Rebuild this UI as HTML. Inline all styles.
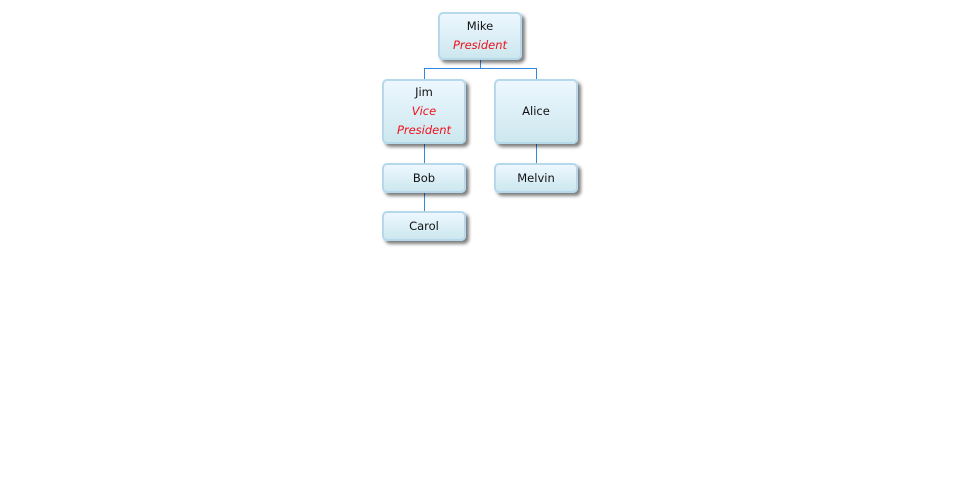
<!DOCTYPE html>
<html><head><style>
body{margin:0;width:960px;height:500px;background:#fff;position:relative;font-family:"DejaVu Sans","Liberation Sans",sans-serif;font-size:11.5px;color:#111;}
.n{position:absolute;box-sizing:border-box;border:2px solid #b5d9ea;border-radius:5px;background:linear-gradient(#edf7ff,#cde7ee);box-shadow:3px 3px 3px rgba(0,0,0,0.5);display:flex;flex-direction:column;justify-content:center;align-items:center;text-align:center;line-height:19px;}
.r{color:#f0101a;font-style:italic;}
.l{position:absolute;background:#3388dd;}
</style></head><body>
<div class="l" style="left:480px;top:59px;width:1px;height:10px"></div>
<div class="l" style="left:424px;top:68px;width:113px;height:1px"></div>
<div class="l" style="left:424px;top:68px;width:1px;height:12px"></div>
<div class="l" style="left:536px;top:68px;width:1px;height:12px"></div>
<div class="l" style="left:424px;top:143px;width:1px;height:21px"></div>
<div class="l" style="left:536px;top:143px;width:1px;height:21px"></div>
<div class="l" style="left:424px;top:192px;width:1px;height:20px"></div>
<div class="n" style="left:438px;top:12px;width:84px;height:48px">Mike<span class="r">President</span></div>
<div class="n" style="left:382px;top:79px;width:84px;height:65px">Jim<span class="r">Vice<br>President</span></div>
<div class="n" style="left:494px;top:79px;width:84px;height:65px">Alice</div>
<div class="n" style="left:382px;top:163px;width:84px;height:30px">Bob</div>
<div class="n" style="left:494px;top:163px;width:84px;height:30px">Melvin</div>
<div class="n" style="left:382px;top:211px;width:84px;height:30px">Carol</div>
</body></html>
